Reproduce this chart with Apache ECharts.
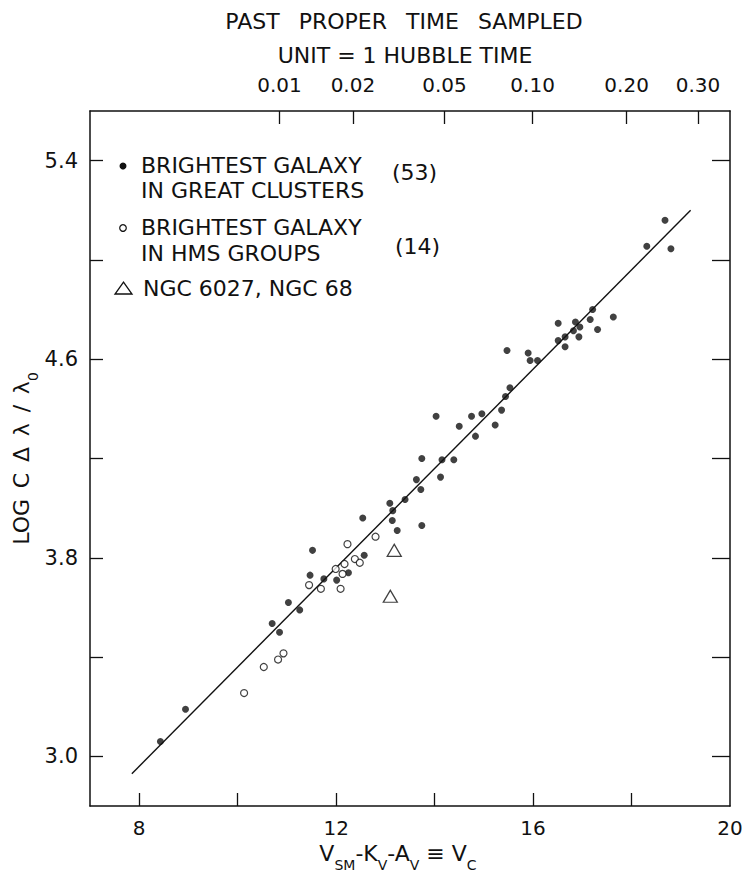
<!DOCTYPE html>
<html><head><meta charset="utf-8">
<script src="https://cdn.jsdelivr.net/npm/echarts@6.0.0/dist/echarts.min.js"></script>
<style>html,body{margin:0;padding:0;background:#fff;}#c{width:742px;height:875px;}</style>
</head><body><div id="c"></div>
<script>
// Brightest galaxy in great clusters (53)
const clusterV = [17.63,17.21,17.16,17.31,16.86,16.95,16.82,16.93,16.51,16.51,16.65,16.65,15.90,15.94,16.09,15.47,15.53,15.44,15.36,15.23,14.96,14.75,14.83,14.50,14.03,14.39,14.15,14.12,13.74,13.63,13.72,13.40,13.09,18.68,18.31,18.80,13.15,13.14,12.54,13.24,13.74,12.57,11.52,11.47,11.75,12.01,12.25,11.03,11.26,10.70,10.85,8.94,8.43];
const clusterLog = [4.77,4.80,4.76,4.72,4.75,4.73,4.715,4.69,4.745,4.675,4.69,4.65,4.625,4.595,4.595,4.635,4.485,4.45,4.395,4.335,4.38,4.37,4.29,4.33,4.37,4.195,4.195,4.125,4.20,4.115,4.075,4.035,4.02,5.16,5.055,5.045,3.99,3.95,3.96,3.91,3.93,3.81,3.83,3.73,3.715,3.71,3.74,3.62,3.59,3.535,3.50,3.19,3.06];
// Brightest galaxy in HMS groups (14)
const groupV = [12.80,12.23,12.38,12.48,12.17,11.99,12.13,11.69,11.45,12.09,10.93,10.82,10.53,10.13];
const groupLog = [3.885,3.855,3.795,3.78,3.775,3.755,3.735,3.675,3.69,3.675,3.415,3.39,3.36,3.255];
// NGC 6027, NGC 68
const ngcV = [13.18,13.10];
const ngcLog = [3.83,3.645];
// fitted line end points
const fitV = [7.85,19.2];
const fitLog = [2.93,5.2];
// axes
const xTicks = [8,10,12,14,16,18];
const xLabels = [8,12,16,20];
const yTicks = [3.0,3.4,3.8,4.2,4.6,5.0,5.4];
const yLabels = [3.0,3.8,4.6,5.4];
const timeTickV = [10.85,12.34,14.2,15.99,17.9,19.35];
const timeLabels = ['0.01','0.02','0.05','0.10','0.20','0.30'];

const FONT = 'DejaVu Sans';
const INK = '#111';
const pairs = (a,b) => a.map((v,i)=>[v,b[i]]);

const chart = echarts.init(document.getElementById('c'), null, {renderer:'svg'});
const axisLine = {show:true, lineStyle:{color:INK, width:1.5}};
const tick = (vals,len) => ({show:true, inside:true, length:len, customValues:vals, lineStyle:{color:INK, width:1.3}});
chart.setOption({
  backgroundColor:'#fff',
  animation:false,
  grid:{left:90, right:12, top:111, bottom:69, containLabel:false, outerBoundsMode:'none'},
  xAxis:[
    {type:'value', position:'bottom', min:7, max:20, axisLine,
     axisTick:tick(xTicks,13), splitLine:{show:false},
     axisLabel:{customValues:xLabels, margin:12, fontFamily:FONT, fontSize:20, color:INK},
     name:'{a|V}{s|SM}{a|-K}{s|V}{a|-A}{s|V}{a| ≡ V}{s|C}', nameLocation:'middle', nameGap:36, nameMoveOverlap:false,
     nameTextStyle:{padding:[0,24,0,0], rich:{
       a:{fontFamily:FONT, fontSize:22, color:INK, lineHeight:30, verticalAlign:'top'},
       s:{fontFamily:FONT, fontSize:14, color:INK, lineHeight:14, verticalAlign:'bottom'}}}},
    {type:'value', position:'top', min:7, max:20, axisLine,
     axisTick:tick(timeTickV,13), splitLine:{show:false},
     axisLabel:{customValues:timeTickV, margin:16, fontFamily:FONT, fontSize:20, color:INK,
       formatter:(v)=>{let bi=0,bd=1e9;timeTickV.forEach((t,i)=>{const d=Math.abs(t-v);if(d<bd){bd=d;bi=i;}});return timeLabels[bi];}}}
  ],
  yAxis:[
    {type:'value', position:'left', min:2.8, max:5.6, axisLine,
     axisTick:tick(yTicks,13), splitLine:{show:false},
     axisLabel:{customValues:yLabels, margin:12, fontFamily:FONT, fontSize:21, color:INK, formatter:(v)=>v.toFixed(1)},
     name:'{a|LOG}{w| }{a|C}{w| }{a|Δ}{w| }{a|λ}{w| }{a|/}{w| }{a|λ}{s|0}', nameLocation:'middle', nameRotate:90, nameGap:50, nameMoveOverlap:false,
     nameTextStyle:{rich:{
       a:{fontFamily:FONT, fontSize:22, color:INK, lineHeight:30, verticalAlign:'top'},
       w:{fontFamily:FONT, fontSize:34, color:INK, lineHeight:30, verticalAlign:'top'},
       s:{fontFamily:FONT, fontSize:14, color:INK, lineHeight:14, verticalAlign:'bottom'}}}},
    {type:'value', position:'right', min:2.8, max:5.6, axisLine,
     axisTick:tick(yTicks,18), splitLine:{show:false}, axisLabel:{show:false}}
  ],
  graphic:[
    {type:'text', x:404, y:21, style:{text:'{a|PAST}{w| }{a|PROPER}{w| }{a|TIME}{w| }{a|SAMPLED}', textAlign:'center', textVerticalAlign:'middle',
      rich:{a:{fontFamily:FONT, fontSize:22, fill:INK, lineHeight:26}, w:{fontFamily:FONT, fontSize:60, lineHeight:26}}}},
    {type:'text', x:405, y:55, style:{text:'UNIT = 1 HUBBLE TIME', font:'22px "DejaVu Sans"', fill:INK, textAlign:'center', textVerticalAlign:'middle'}},
    {type:'circle', shape:{cx:123, cy:166, r:3.5}, style:{fill:INK}},
    {type:'text', x:141, y:165, style:{text:'BRIGHTEST GALAXY', font:'22px "DejaVu Sans"', fill:INK, textVerticalAlign:'middle'}},
    {type:'text', x:141, y:190, style:{text:'IN GREAT CLUSTERS', font:'22px "DejaVu Sans"', fill:INK, textVerticalAlign:'middle'}},
    {type:'text', x:392, y:172, style:{text:'(53)', font:'22px "DejaVu Sans"', fill:INK, textVerticalAlign:'middle'}},
    {type:'circle', shape:{cx:123, cy:228, r:3.3}, style:{fill:'#fff', stroke:INK, lineWidth:1.2}},
    {type:'text', x:141, y:227, style:{text:'BRIGHTEST GALAXY', font:'22px "DejaVu Sans"', fill:INK, textVerticalAlign:'middle'}},
    {type:'text', x:141, y:253, style:{text:'IN HMS GROUPS', font:'22px "DejaVu Sans"', fill:INK, textVerticalAlign:'middle'}},
    {type:'text', x:395, y:246, style:{text:'(14)', font:'22px "DejaVu Sans"', fill:INK, textVerticalAlign:'middle'}},
    {type:'polygon', shape:{points:[[115,294],[132,294],[123.5,282]]}, style:{fill:'#fff', stroke:INK, lineWidth:1.3}},
    {type:'text', x:143, y:288, style:{text:'NGC 6027, NGC 68', font:'22px "DejaVu Sans"', fill:INK, textVerticalAlign:'middle'}}
  ],
  series:[
    {type:'line', data:pairs(fitV,fitLog), symbol:'none', lineStyle:{color:INK, width:1.4}, silent:true, z:1},
    {type:'scatter', name:'BRIGHTEST GALAXY IN GREAT CLUSTERS', data:pairs(clusterV,clusterLog), symbol:'circle', symbolSize:7, itemStyle:{color:INK}, z:3},
    {type:'scatter', name:'BRIGHTEST GALAXY IN HMS GROUPS', data:pairs(groupV,groupLog), symbol:'circle', symbolSize:7, itemStyle:{color:'#fff', borderColor:INK, borderWidth:1.2}, z:3},
    {type:'scatter', name:'NGC 6027, NGC 68', data:pairs(ngcV,ngcLog), symbol:'triangle', symbolSize:[14,12], itemStyle:{color:'#fff', borderColor:INK, borderWidth:1.3}, z:3}
  ]
});
</script></body></html>
